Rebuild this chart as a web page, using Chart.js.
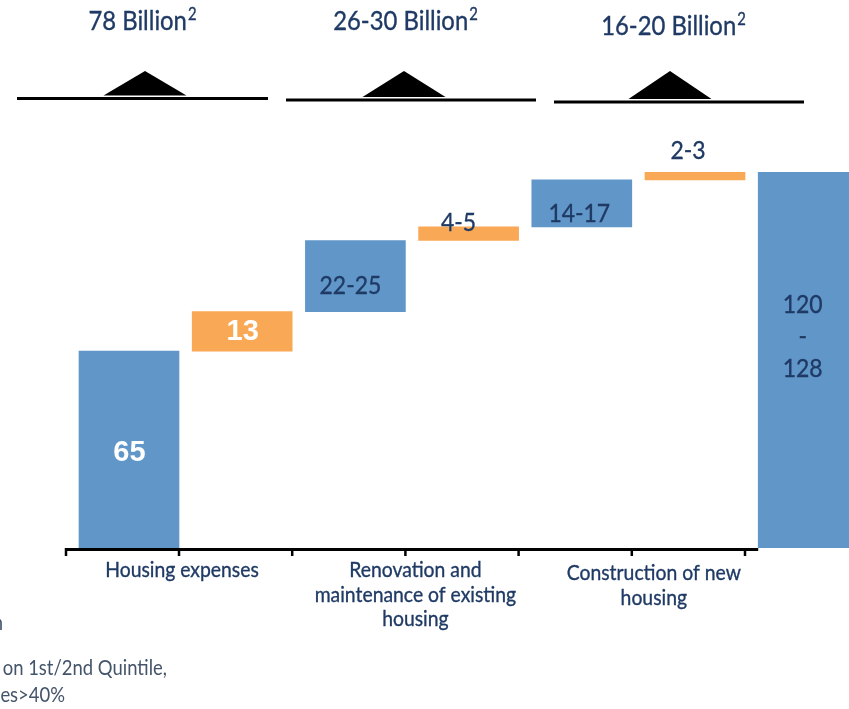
<!DOCTYPE html>
<html>
<head>
<meta charset="utf-8">
<script src="https://cdn.jsdelivr.net/npm/chart.js@4"></script>
<style>
  html, body { margin: 0; padding: 0; background: #fff; overflow: hidden; }
  canvas { display: block; }
</style>
</head>
<body>
<canvas id="chart" width="880" height="709"></canvas>
<script>
// waterfall steps (midpoint of each range shown in the labels)
const categories = ["Housing", "Housing (extra)", "Renovation", "Renovation (extra)", "Construction", "Construction (extra)", "Total"];
const steps = [65, 13, 23.5, 4.5, 15.5, 2.5];
const total = 124;
const valueLabels = ["65", "13", "22-25", "4-5", "14-17", "2-3", ["120", "-", "128"]];
const groupLabels = [["Housing expenses"], ["Renovation and", "maintenance of existing", "housing"], ["Construction of new", "housing"]];
const groupTotals = ["78 Billion", "26-30 Billion", "16-20 Billion"];
const footnotes = ["n", "on 1st/2nd Quintile,", "es>40%"];

const BLUE = "#6196c9";
const ORANGE = "#f9a855";
const NAVY = "#1f3a64";
const GREY = "#44546a";
const SANS = "Lato, 'Open Sans', sans-serif";
const SQUEEZE = 0.9;

let run = 0;
const ranges = steps.map(v => {
  const r = [run, run + v];
  run += v;
  return r;
});
ranges.push([0, total]);

const colors = ranges.map((r, i) => i === ranges.length - 1 || i % 2 === 0 ? BLUE : ORANGE);

// label placement relative to bar centre / bar middle
const labelOffsets = [[0.5, 3], [0.5, 1], [-5, 10], [-10, -10.5], [-2.5, 10], [-7, -25], [-5.5, -23]];

// narrow-ish text: taller glyphs at the same width
function narrowText(ctx, text, x, y, size, color) {
  ctx.save();
  ctx.font = size + "px " + SANS;
  ctx.fillStyle = color;
  ctx.strokeStyle = color;
  ctx.lineWidth = 0.35;
  ctx.translate(x, y);
  ctx.scale(SQUEEZE, 1);
  ctx.fillText(text, 0, 0);
  ctx.strokeText(text, 0, 0);
  ctx.restore();
}

function narrowWidth(ctx, text, size) {
  ctx.save();
  ctx.font = size + "px " + SANS;
  const w = ctx.measureText(text).width * SQUEEZE;
  ctx.restore();
  return w;
}

const decorations = {
  id: "decorations",
  afterDatasetsDraw(chart) {
    const ctx = chart.ctx;
    const y = chart.scales.y;
    const bars = chart.getDatasetMeta(0).data;
    const half = b => b.width / 2;
    const baseY = y.getPixelForValue(0);

    ctx.save();

    // axis line and ticks
    const axisLeft = bars[0].x - half(bars[0]) - 13;
    const axisRight = bars[6].x - half(bars[6]);
    ctx.strokeStyle = "#000";
    ctx.lineWidth = 3;
    ctx.beginPath();
    ctx.moveTo(axisLeft, baseY + 1.5);
    ctx.lineTo(axisRight, baseY + 1.5);
    ctx.stroke();
    ctx.lineWidth = 2.5;
    const tickXs = [axisLeft].concat(bars.slice(0, 6).map(b => b.x + half(b)));
    tickXs.forEach(tx => {
      ctx.beginPath();
      ctx.moveTo(tx, baseY);
      ctx.lineTo(tx, baseY + 8);
      ctx.stroke();
    });

    // value labels
    ctx.textAlign = "center";
    ctx.textBaseline = "middle";
    bars.forEach((b, i) => {
      const cx = b.x + labelOffsets[i][0];
      const cy = (b.y + b.base) / 2 + labelOffsets[i][1];
      const lines = [].concat(valueLabels[i]);
      lines.forEach((t, k) => {
        const ly = cy + (k - (lines.length - 1) / 2) * 32;
        if (i < 2) {
          ctx.fillStyle = "#fff";
          ctx.font = "bold 29px 'Liberation Sans', Arial, sans-serif";
          ctx.fillText(t, cx, ly);
        } else {
          narrowText(ctx, t, cx, ly, 25.5, NAVY);
        }
      });
    });

    // category group labels under the axis
    ctx.textBaseline = "alphabetic";
    const groupShift = [3, 10, 22];
    const groupBase = [577, 577, 580];
    groupLabels.forEach((lines, g) => {
      const b = bars[g * 2];
      const cx = b.x + half(b) + groupShift[g];
      lines.forEach((t, k) => narrowText(ctx, t, cx, groupBase[g] + k * 24.5, 21.5, NAVY));
    });

    // group totals with brackets
    const heads = [
      { cx: 142, base: 30, l: 17, r: 268, ly: 98.5, apex: 145 },
      { cx: 405, base: 30, l: 286, r: 536, ly: 100, apex: 404 },
      { cx: 673, base: 35, l: 554, r: 804, ly: 102, apex: 670 }
    ];
    ctx.textAlign = "left";
    heads.forEach((h, g) => {
      const main = groupTotals[g];
      const wMain = narrowWidth(ctx, main, 26.5);
      const wSup = narrowWidth(ctx, "2", 16.5);
      const x0 = h.cx - (wMain + wSup) / 2;
      narrowText(ctx, main, x0, h.base, 26.5, NAVY);
      narrowText(ctx, "2", x0 + wMain + 1, h.base - 10, 16.5, NAVY);

      ctx.strokeStyle = "#000";
      ctx.lineWidth = 3;
      ctx.beginPath();
      ctx.moveTo(h.l, h.ly);
      ctx.lineTo(h.r, h.ly);
      ctx.stroke();
      ctx.fillStyle = "#000";
      ctx.beginPath();
      ctx.moveTo(h.apex - 41.5, h.ly - 3);
      ctx.lineTo(h.apex, 71);
      ctx.lineTo(h.apex + 41.5, h.ly - 3);
      ctx.closePath();
      ctx.fill();
    });

    // footnotes, cut at the left edge
    ctx.textAlign = "right";
    ctx.save();
    ctx.fillStyle = GREY;
    ctx.font = "20.5px " + SANS;
    [[footnotes[0], 3, 630], [footnotes[1], 167, 675], [footnotes[2], 65, 702]].forEach(([t, fx, fy]) => {
      ctx.save();
      ctx.translate(fx, fy);
      ctx.scale(SQUEEZE, 1);
      ctx.fillText(t, 0, 0);
      ctx.restore();
    });
    ctx.restore();

    ctx.restore();
  }
};

new Chart(document.getElementById("chart"), {
  type: "bar",
  data: {
    labels: categories,
    datasets: [{
      data: ranges,
      backgroundColor: colors,
      borderWidth: 0,
      barThickness: 100
    }]
  },
  options: {
    responsive: false,
    animation: false,
    layout: { padding: { left: 72.4, right: 15.2, top: 123.8, bottom: 161 } },
    plugins: { legend: { display: false }, tooltip: { enabled: false } },
    scales: {
      x: { display: false, offset: true },
      y: { display: false, min: 0, max: 140 }
    }
  },
  plugins: [decorations]
});
</script>
</body>
</html>
